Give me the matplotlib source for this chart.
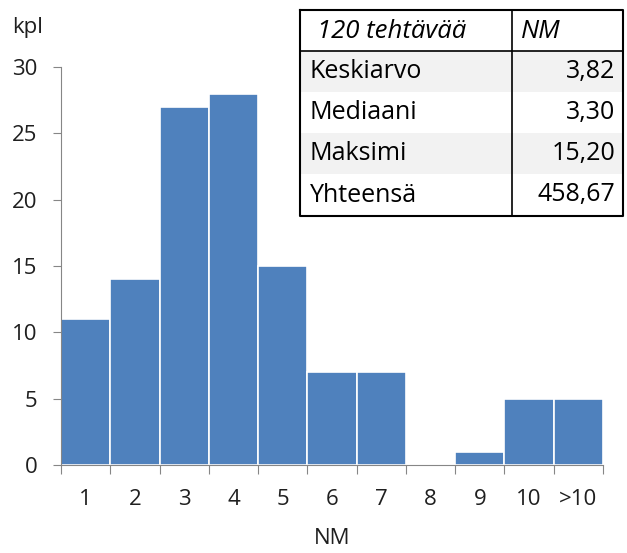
import matplotlib.pyplot as plt
from matplotlib.patches import Rectangle

categories = ["1", "2", "3", "4", "5", "6", "7", "8", "9", "10", ">10"]
counts = [11, 14, 27, 28, 15, 7, 7, 0, 1, 5, 5]

table_header = ["120 tehtävää", "NM"]
table_labels = ["Keskiarvo", "Mediaani", "Maksimi", "Yhteensä"]
table_values = ["3,82", "3,30", "15,20", "458,67"]

plt.rcParams['font.family'] = ['Open Sans', 'DejaVu Sans']
W, H = 627, 553
fig = plt.figure(figsize=(W / 100, H / 100), dpi=100)
txtc = '#1f1f1f'

# chart
ax = fig.add_axes([61 / W, 1 - 465 / H, (603 - 61) / W, (465 - 67) / H])
x = list(range(len(categories)))
ax.bar(x, counts, width=1.0, color='#4F81BD', edgecolor='white', linewidth=1.2)
ax.set_xlim(-0.5, len(categories) - 0.5)
ax.set_ylim(0, 30)
ax.set_yticks([0, 5, 10, 15, 20, 25, 30])
ax.set_xticks([i - 0.5 for i in range(len(categories) + 1)])
ax.set_xticklabels([])
ax.set_xticks(x, minor=True)
ax.set_xticklabels(categories, minor=True)
ax.tick_params(axis='x', which='major', length=6.5, color='#868686', direction='out')
ax.tick_params(axis='x', which='minor', length=0, pad=17, labelsize=16, labelcolor=txtc)
ax.tick_params(axis='y', length=6, color='#868686', labelsize=16, labelcolor=txtc, pad=11)
for s in ['top', 'right']:
    ax.spines[s].set_visible(False)
ax.spines['left'].set_color('#868686')
ax.spines['bottom'].set_color('#868686')
ax.set_xlabel("NM", fontsize=16, color=txtc, labelpad=13)
fig.text(12 / W, 1 - 28 / H, "kpl", fontsize=16, color=txtc, va='center')

# table
tx = fig.add_axes([0, 0, 1, 1])
tx.set_xlim(0, W)
tx.set_ylim(H, 0)
tx.axis('off')
left, right, mid = 300, 623, 512
rows = [10, 51, 92, 133, 174, 216]
for i in range(len(table_labels)):
    if i % 2 == 0:
        tx.add_patch(Rectangle((left, rows[i + 1]), right - left, rows[i + 2] - rows[i + 1],
                               facecolor='#F2F2F2', edgecolor='none'))
tx.plot([left, right, right, left, left], [rows[0], rows[0], rows[-1], rows[-1], rows[0]],
        color='black', lw=1.5)
tx.plot([mid, mid], [rows[0], rows[-1]], color='black', lw=1.2)
tx.plot([left, right], [rows[1], rows[1]], color='black', lw=1.2)
tx.text(317, 32, table_header[0], fontsize=18.5, style='italic', va='center')
tx.text(521, 32, table_header[1], fontsize=18.5, style='italic', va='center')
for i, (lab, val) in enumerate(zip(table_labels, table_values)):
    yc = (rows[i + 1] + rows[i + 2]) / 2
    tx.text(310, yc, lab, fontsize=18, va='center')
    tx.text(615, yc, val, fontsize=18, va='center', ha='right')

fig.savefig("out.png", dpi=100)
